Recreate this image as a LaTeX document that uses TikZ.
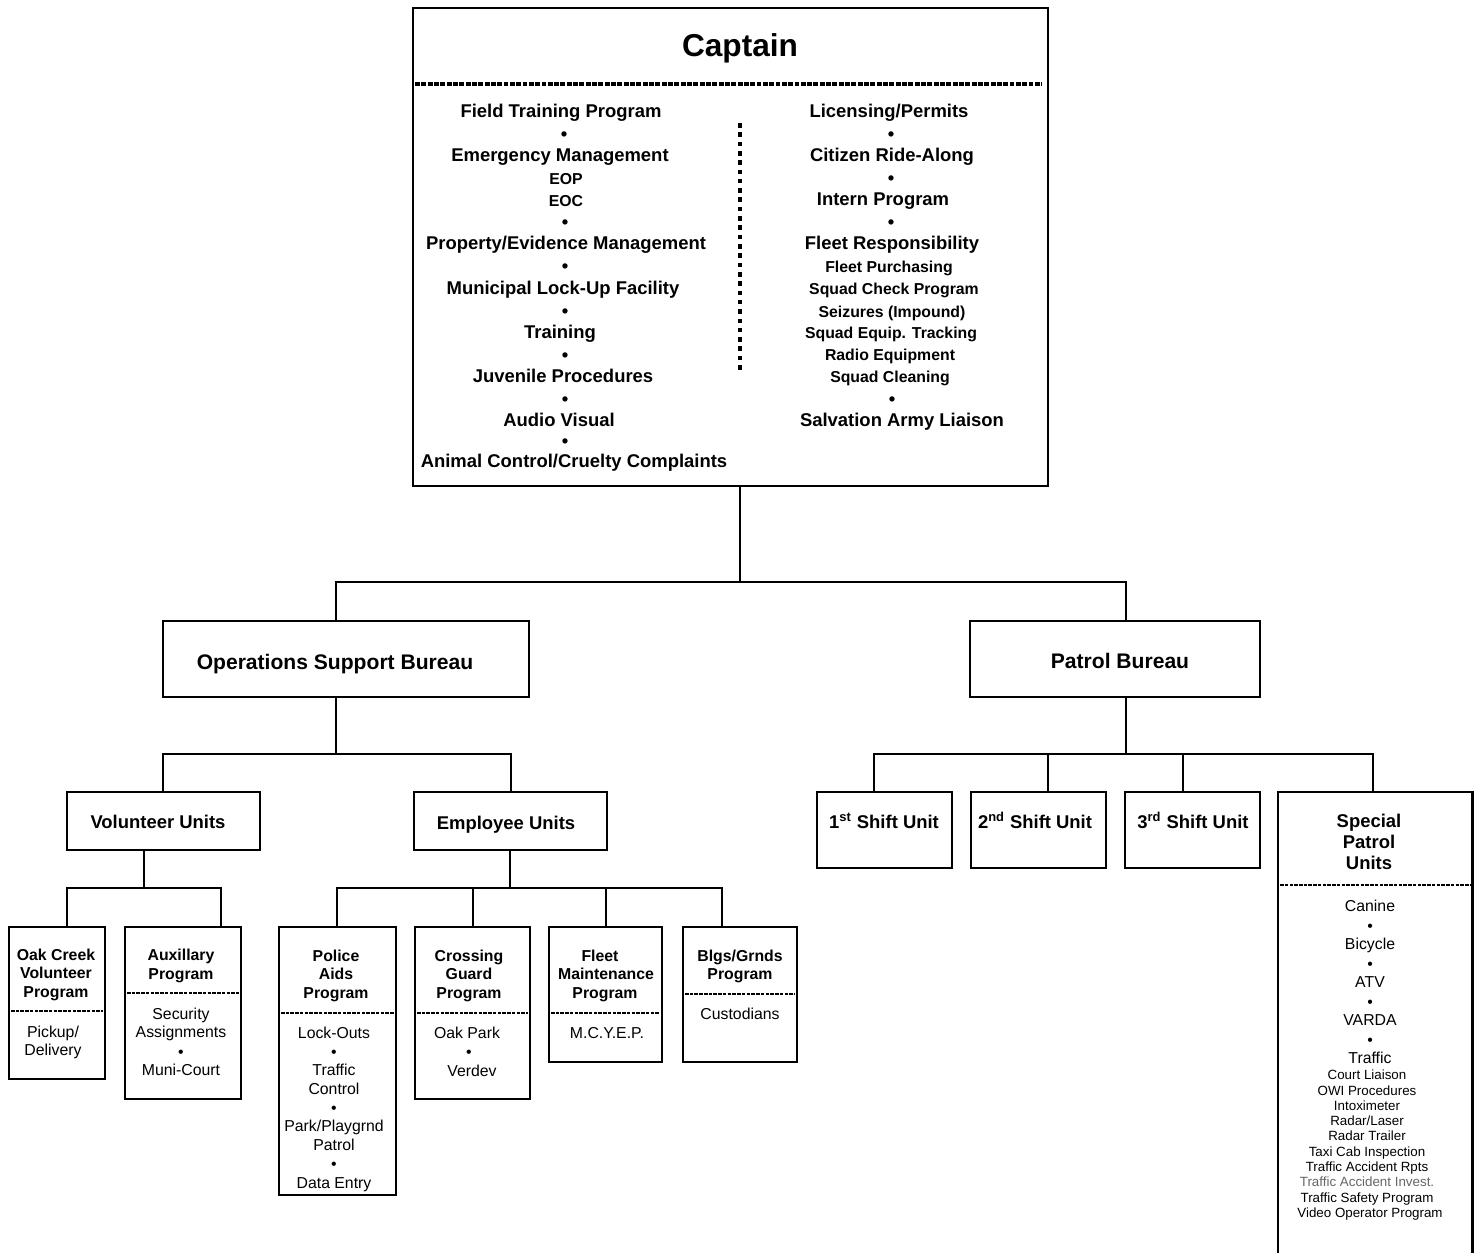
\documentclass[tikz,border=0pt]{standalone}
\usepackage{fontspec}
\setmainfont{Liberation Sans}
\usetikzlibrary{fit}
\begin{document}
\begin{tikzpicture}[x=0.02cm,y=-0.02cm,
  box/.style={draw, line width=1.3pt, inner sep=0pt},
  conn/.style={line width=1.1pt},
  bigsep/.style={line width=1.8pt, dash pattern=on 2.8pt off 0.8pt},
  smallsep/.style={line width=1.2pt, dash pattern=on 2pt off 0.7pt},
  lbl/.style={inner sep=0pt, anchor=mid, align=center, yshift=-1.5pt},
  chief/.style={lbl, font=\fontsize{18}{20}\selectfont\bfseries},
  capbig/.style={lbl, font=\fontsize{10.5}{12}\selectfont\bfseries},
  capsub/.style={lbl, font=\fontsize{9}{10}\selectfont\bfseries},
  bureau/.style={lbl, font=\fontsize{12}{14}\selectfont\bfseries},
  unitlbl/.style={lbl, font=\fontsize{10.5}{12}\selectfont\bfseries},
  prog/.style={lbl, font=\fontsize{9}{10}\selectfont\bfseries},
  duty/.style={lbl, font=\fontsize{9}{10}\selectfont},
  finelbl/.style={lbl, font=\fontsize{7.6}{9}\selectfont},
]
\useasboundingbox (0,0) rectangle (1476,1253);
\fill[white] (0,0) rectangle (1476,1253);

% ---------- Captain ----------
\node[box, fit={(413,8) (1048,486)}] (cap) {};
\node[chief] (capT) at (740,49) {Captain};
\draw[bigsep] (415,84) -- (1042,84);
\draw[line width=2.6pt, dash pattern=on 2.6pt off 2.7pt] (740,123) -- (740,372);

\foreach \xx/\yy/\ss/\txt [count=\k] in {
  561/110/capbig/{Field Training Program},
  564/133/capbig/\textbullet,
  560/154/capbig/{Emergency Management},
  566/177/capsub/EOP,
  566/199/capsub/EOC,
  565/221/capbig/\textbullet,
  566/242/capbig/{Property/Evidence Management},
  565/265/capbig/\textbullet,
  563/287/capbig/{Municipal Lock-Up Facility},
  565/310/capbig/\textbullet,
  560/331/capbig/Training,
  565/354/capbig/\textbullet,
  563/375/capbig/{Juvenile Procedures},
  565/398/capbig/\textbullet,
  559/419/capbig/{Audio Visual},
  565/440/capbig/\textbullet,
  574/460/capbig/{Animal Control/Cruelty Complaints}}
  \node[\ss] (capL\k) at (\xx,\yy) {\txt};

\foreach \xx/\yy/\ss/\txt [count=\k] in {
  889/110/capbig/{Licensing/Permits},
  891/133/capbig/\textbullet,
  892/154/capbig/{Citizen Ride-Along},
  891/177/capbig/\textbullet,
  883/198/capbig/{Intern Program},
  891/221/capbig/\textbullet,
  892/242/capbig/{Fleet Responsibility},
  889/265/capsub/{Fleet Purchasing},
  894/287/capsub/{Squad Check Program},
  892/310/capsub/{Seizures (Impound)},
  891/331/capsub/{Squad Equip. Tracking},
  890/353/capsub/{Radio Equipment},
  890/375/capsub/{Squad Cleaning},
  892/398/capbig/\textbullet,
  902/419/capbig/{Salvation Army Liaison}}
  \node[\ss] (capR\k) at (\xx,\yy) {\txt};

% ---------- Bureaus ----------
\node[box, fit={(163,621) (529,697)}] (osb) {};
\node[bureau] (osbT) at (335,662) {Operations Support Bureau};
\node[box, fit={(970,621) (1260,697)}] (pb) {};
\node[bureau] (pbT) at (1120,661) {Patrol Bureau};

% ---------- Units ----------
\node[box, fit={(67,792) (260,850)}] (vol) {};
\node[unitlbl] (volT) at (158,821) {Volunteer Units};
\node[box, fit={(414,792) (607,850)}] (emp) {};
\node[unitlbl] (empT) at (506,822) {Employee Units};

\node[box, fit={(817,792) (952,868)}] (s1) {};
\node[unitlbl] (s1T) at (884,821) {1\textsuperscript{st} Shift Unit};
\node[box, fit={(971,792) (1106,868)}] (s2) {};
\node[unitlbl] (s2T) at (1035,821) {2\textsuperscript{nd} Shift Unit};
\node[box, fit={(1125,792) (1260,868)}] (s3) {};
\node[unitlbl] (s3T) at (1193,821) {3\textsuperscript{rd} Shift Unit};

% Special Patrol Units runs past the lower edge
\node[inner sep=0pt, fit={(1278,792) (1472,1253)}] (spu) {};
\draw[line width=1.3pt] (spu.south west) |- (spu.north east) -- (spu.south east);
\draw[smallsep] (1280,885) -- (1470,885);
\foreach \yy/\txt [count=\k] in {820/Special, 841/Patrol, 862/Units}
  \node[unitlbl] (spuT\k) at (1369,\yy) {\txt};
\foreach \yy/\ss/\txt [count=\k] in {
  904/duty/Canine, 924/duty/\textbullet, 942/duty/Bicycle, 962/duty/\textbullet,
  980/duty/ATV, 1000/duty/\textbullet, 1018/duty/VARDA, 1038/duty/\textbullet,
  1056/duty/Traffic}
  \node[\ss] (spuA\k) at (1370,\yy) {\txt};
\foreach \yy/\txt [count=\k] in {
  1072/{Court Liaison}, 1088/{OWI Procedures}, 1103/Intoximeter,
  1118/{Radar/Laser}, 1133/{Radar Trailer}, 1149/{Taxi Cab Inspection},
  1164/{Traffic Accident Rpts}}
  \node[finelbl] (spuB\k) at (1367,\yy) {\txt};
\node[finelbl, text=black!60] (spuB8) at (1367,1179) {Traffic Accident Invest.};
\node[finelbl] (spuB9) at (1367,1195) {Traffic Safety Program};
\node[finelbl] (spuB10) at (1370,1210) {Video Operator Program};

% ---------- Programs ----------
\node[box, fit={(9,927) (105,1079)}] (oak) {};
\draw[smallsep] (11,1011) -- (103,1011);
\foreach \yy/\txt [count=\k] in {953/{Oak Creek}, 971/Volunteer, 990/Program}
  \node[prog] (oakT\k) at (56,\yy) {\txt};
\node[duty] (oakA1) at (53,1030) {Pickup/};
\node[duty] (oakA2) at (53,1048) {Delivery};

\node[box, fit={(125,927) (241,1099)}] (aux) {};
\draw[smallsep] (127,993) -- (239,993);
\foreach \yy/\txt [count=\k] in {953/Auxillary, 972/Program}
  \node[prog] (auxT\k) at (181,\yy) {\txt};
\foreach \yy/\txt [count=\k] in {1012/Security, 1030/Assignments, 1050/\textbullet, 1068/Muni-Court}
  \node[duty] (auxA\k) at (181,\yy) {\txt};

\node[box, fit={(279,927) (396,1195)}] (pa) {};
\draw[smallsep] (281,1013) -- (394,1013);
\foreach \yy/\txt [count=\k] in {954/Police, 972/Aids, 991/Program}
  \node[prog] (paT\k) at (336,\yy) {\txt};
\foreach \yy/\txt [count=\k] in {1031/Lock-Outs, 1050/\textbullet, 1068/Traffic, 1087/Control,
  1106/\textbullet, 1124/{Park/Playgrnd}, 1143/Patrol, 1162/\textbullet, 1181/{Data Entry}}
  \node[duty] (paA\k) at (334,\yy) {\txt};

\node[box, fit={(415,927) (530,1099)}] (cg) {};
\draw[smallsep] (417,1013) -- (528,1013);
\foreach \yy/\txt [count=\k] in {954/Crossing, 972/Guard, 991/Program}
  \node[prog] (cgT\k) at (469,\yy) {\txt};
\node[duty] (cgA1) at (467,1031) {Oak Park};
\node[duty] (cgA2) at (469,1050) {\textbullet};
\node[duty] (cgA3) at (472,1069) {Verdev};

\node[box, fit={(549,927) (662,1062)}] (fm) {};
\draw[smallsep] (551,1013) -- (660,1013);
\node[prog] (fmT1) at (600,954) {Fleet};
\node[prog] (fmT2) at (606,972) {Maintenance};
\node[prog] (fmT3) at (605,991) {Program};
\node[duty] (fmA1) at (607,1031) {M.C.Y.E.P.};

\node[box, fit={(683,927) (797,1062)}] (bg) {};
\draw[smallsep] (685,994) -- (795,994);
\node[prog] (bgT1) at (740,954) {Blgs/Grnds};
\node[prog] (bgT2) at (740,972) {Program};
\node[duty] (bgA1) at (740,1012) {Custodians};

% ---------- Connectors ----------
\coordinate (j0) at (740,582);
\coordinate (j0l) at (336,582);
\coordinate (j0r) at (1126,582);
\draw[conn] (cap.south -| j0) -- (j0);
\draw[conn] (osb.north -| j0l) -- (j0l) -- (j0r) -- (pb.north -| j0r);

\coordinate (j1) at (336,754);
\coordinate (j1l) at (163,754);
\coordinate (j1r) at (511,754);
\draw[conn] (osb.south -| j1) -- (j1);
\draw[conn] (vol.north -| j1l) -- (j1l) -- (j1r) -- (emp.north -| j1r);

\coordinate (j2) at (144,888);
\coordinate (j2l) at (67,888);
\coordinate (j2r) at (221,888);
\draw[conn] (vol.south -| j2) -- (j2);
\draw[conn] (oak.north -| j2l) -- (j2l) -- (j2r) -- (aux.north -| j2r);

\coordinate (j3) at (510,888);
\coordinate (d31) at (337,888);
\coordinate (d32) at (473,888);
\coordinate (d33) at (606,888);
\coordinate (d34) at (722,888);
\draw[conn] (emp.south -| j3) -- (j3);
\draw[conn] (pa.north -| d31) -- (d31) -- (d34) -- (bg.north -| d34);
\draw[conn] (d32) -- (cg.north -| d32);
\draw[conn] (d33) -- (fm.north -| d33);

\coordinate (j4) at (1126,754);
\coordinate (d41) at (874,754);
\coordinate (d42) at (1048,754);
\coordinate (d43) at (1183,754);
\coordinate (d44) at (1373,754);
\draw[conn] (pb.south -| j4) -- (j4);
\draw[conn] (s1.north -| d41) -- (d41) -- (d44) -- (spu.north -| d44);
\draw[conn] (d42) -- (s2.north -| d42);
\draw[conn] (d43) -- (s3.north -| d43);
\end{tikzpicture}
\end{document}
